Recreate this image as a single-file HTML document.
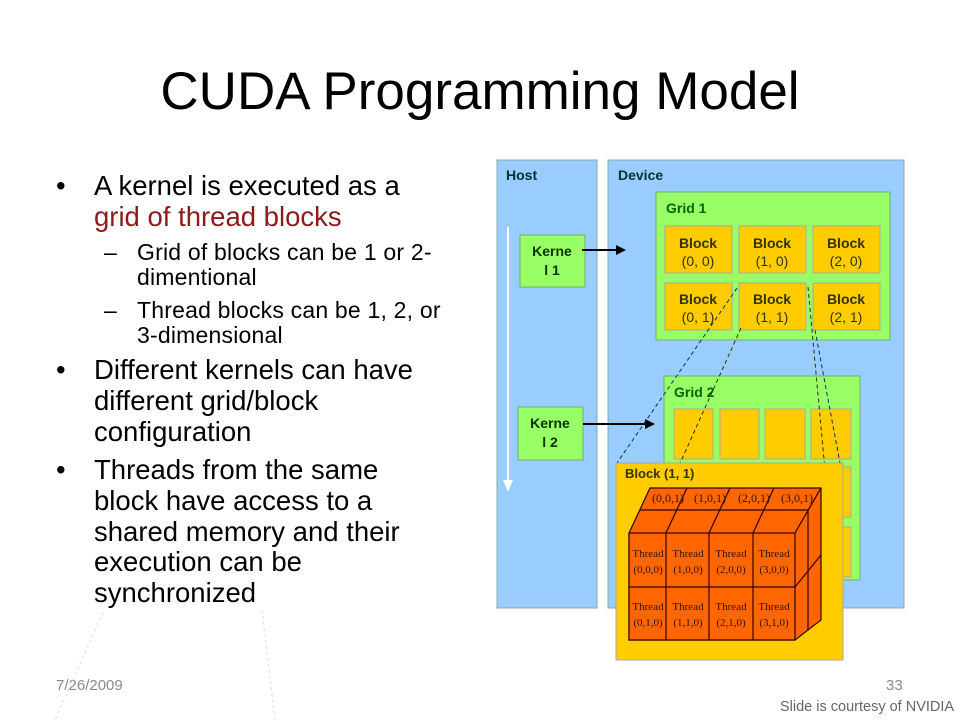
<!DOCTYPE html>
<html><head><meta charset="utf-8"><style>
body{margin:0;width:960px;height:720px;background:#fff;overflow:hidden;position:relative;font-family:"Liberation Sans",sans-serif}
.t{position:absolute;white-space:nowrap;color:#000;font-size:27.5px;line-height:30px}
.s{font-size:23px;line-height:26px;letter-spacing:0.2px}
</style></head><body>
<div class="t" style="left:0;width:960px;text-align:center;top:62px;font-size:53px;line-height:60px">CUDA Programming Model</div>
<div class="t" style="left:56px;top:171px">•</div>
<div class="t" style="left:94px;top:171px">A kernel is executed as a</div>
<div class="t" style="left:94px;top:202px;color:#8b1a1a">grid of thread blocks</div>
<div class="t s" style="left:104px;top:239px">–</div>
<div class="t s" style="left:137px;top:239px">Grid of blocks can be 1 or 2-</div>
<div class="t s" style="left:137px;top:264px">dimentional</div>
<div class="t s" style="left:104px;top:297px">–</div>
<div class="t s" style="left:137px;top:297px">Thread blocks can be 1, 2, or</div>
<div class="t s" style="left:137px;top:322px">3-dimensional</div>
<div class="t" style="left:56px;top:355px">•</div>
<div class="t" style="left:94px;top:355px">Different kernels can have</div>
<div class="t" style="left:94px;top:386px">different grid/block</div>
<div class="t" style="left:94px;top:417px">configuration</div>
<div class="t" style="left:56px;top:455px">•</div>
<div class="t" style="left:94px;top:455px">Threads from the same</div>
<div class="t" style="left:94px;top:486px">block have access to a</div>
<div class="t" style="left:94px;top:517px">shared memory and their</div>
<div class="t" style="left:94px;top:547px">execution can be</div>
<div class="t" style="left:94px;top:578px">synchronized</div>
<div class="t" style="left:56px;top:677px;font-size:15px;line-height:18px;color:#8a8a8a">7/26/2009</div>
<div class="t" style="left:886px;top:677px;font-size:15px;line-height:18px;color:#8a8a8a">33</div>
<div class="t" style="left:780px;top:699px;font-size:14.5px;line-height:17px;color:#666">Slide is courtesy of NVIDIA</div>
<svg width="960" height="720" style="position:absolute;left:0;top:0" font-family="Liberation Sans, sans-serif" font-weight="bold">
<g stroke="#ddd" stroke-dasharray="3,3" fill="none"><line x1="103" y1="612" x2="55" y2="720"/><line x1="262" y1="610" x2="275" y2="720"/></g>
<rect x="497" y="160" width="100" height="448" fill="#99ccff" stroke="#8aa"/>
<rect x="608" y="160" width="296" height="448" fill="#99ccff" stroke="#8aa"/>
<text x="506" y="180" font-size="14" fill="#003333">Host</text>
<text x="618" y="180" font-size="14" fill="#003333">Device</text>
<line x1="508" y1="227" x2="508" y2="484" stroke="#fff" stroke-width="2"/>
<polygon points="503,480 513,480 508,492" fill="#fff"/>
<rect x="520" y="235" width="65" height="52" fill="#99ff66" stroke="#7a7"/>
<text x="552" y="256" font-size="14" fill="#003300" text-anchor="middle">Kerne</text>
<text x="552" y="275" font-size="14" fill="#003300" text-anchor="middle">l 1</text>
<rect x="518" y="407" width="65" height="53" fill="#99ff66" stroke="#7a7"/>
<text x="550" y="428" font-size="14" fill="#003300" text-anchor="middle">Kerne</text>
<text x="550" y="447" font-size="14" fill="#003300" text-anchor="middle">l 2</text>
<line x1="582" y1="250" x2="618" y2="250" stroke="#000" stroke-width="2"/><polygon points="616,245 626,250 616,255"/>
<line x1="583" y1="424" x2="647" y2="424" stroke="#000" stroke-width="2"/><polygon points="645,419 655,424 645,429"/>
<rect x="656" y="192" width="234" height="148" fill="#99ff66" stroke="#7a7"/>
<text x="666" y="213" font-size="14" fill="#006600">Grid 1</text>
<g fill="#ffcc00" stroke="#aa9"><rect x="665" y="226" width="67" height="47"/><rect x="739" y="226" width="67" height="47"/><rect x="813" y="226" width="67" height="47"/><rect x="665" y="283" width="67" height="47"/><rect x="739" y="283" width="67" height="47"/><rect x="813" y="283" width="67" height="47"/></g>
<g font-size="14" fill="#333300" text-anchor="middle">
<text x="698" y="248">Block</text><text x="698" y="266" font-weight="normal">(0, 0)</text>
<text x="772" y="248">Block</text><text x="772" y="266" font-weight="normal">(1, 0)</text>
<text x="846" y="248">Block</text><text x="846" y="266" font-weight="normal">(2, 0)</text>
<text x="698" y="304">Block</text><text x="698" y="322" font-weight="normal">(0, 1)</text>
<text x="772" y="304">Block</text><text x="772" y="322" font-weight="normal">(1, 1)</text>
<text x="846" y="304">Block</text><text x="846" y="322" font-weight="normal">(2, 1)</text></g>
<rect x="664" y="376" width="196" height="204" fill="#99ff66" stroke="#7a7"/>
<text x="674" y="397" font-size="14" fill="#006600">Grid 2</text>
<g fill="#ffcc00" stroke="#aa9"><rect x="674" y="409" width="39" height="50"/><rect x="720" y="409" width="39" height="50"/><rect x="765" y="409" width="40" height="50"/><rect x="811" y="409" width="40" height="50"/><rect x="811" y="467" width="40" height="50"/><rect x="811" y="527" width="40" height="50"/></g>
<g stroke-dasharray="4,3" stroke-width="1" fill="none">
<line x1="737" y1="288" x2="617" y2="463" stroke="#003366"/>
<line x1="741" y1="328" x2="677" y2="470" stroke="#333300"/>
<line x1="808" y1="287" x2="825" y2="470" stroke="#333300"/>
<line x1="815" y1="330" x2="840" y2="463" stroke="#003366"/></g>
<rect x="616" y="463" width="227" height="197" fill="#ffcc00" stroke="#aa9"/>
<text x="625" y="478" font-size="13" fill="#333300">Block (1, 1)</text>
<g stroke="#330000" stroke-width="1.2" fill="#ff6600">
<polygon points="650,488 821,488 821,620 795,640 629,640 629,533"/>
<line x1="795" y1="533" x2="821" y2="488"/><line x1="640" y1="510" x2="808" y2="510"/>
<line x1="808" y1="510" x2="808" y2="630"/>
<line x1="666" y1="533" x2="687" y2="488"/><line x1="709" y1="533" x2="730" y2="488"/><line x1="753" y1="533" x2="774" y2="488"/>
<rect x="629" y="533" width="166" height="107"/>
<line x1="666" y1="533" x2="666" y2="640"/><line x1="709" y1="533" x2="709" y2="640"/><line x1="753" y1="533" x2="753" y2="640"/>
<line x1="629" y1="587" x2="795" y2="587"/><line x1="795" y1="587" x2="821" y2="555"/></g>
<g font-family="Liberation Serif, serif" font-weight="normal" font-size="11" fill="#331100" text-anchor="middle">
<text x="668" y="502" font-size="12">(0,0,1)</text><text x="710" y="502" font-size="12">(1,0,1)</text><text x="754" y="502" font-size="12">(2,0,1)</text><text x="797" y="502" font-size="12">(3,0,1)</text>
<text x="648" y="557">Thread</text><text x="688" y="557">Thread</text><text x="731" y="557">Thread</text><text x="774" y="557">Thread</text>
<text x="648" y="573">(0,0,0)</text><text x="688" y="573">(1,0,0)</text><text x="731" y="573">(2,0,0)</text><text x="774" y="573">(3,0,0)</text>
<text x="648" y="610">Thread</text><text x="688" y="610">Thread</text><text x="731" y="610">Thread</text><text x="774" y="610">Thread</text>
<text x="648" y="626">(0,1,0)</text><text x="688" y="626">(1,1,0)</text><text x="731" y="626">(2,1,0)</text><text x="774" y="626">(3,1,0)</text></g>
</svg>
</body></html>
